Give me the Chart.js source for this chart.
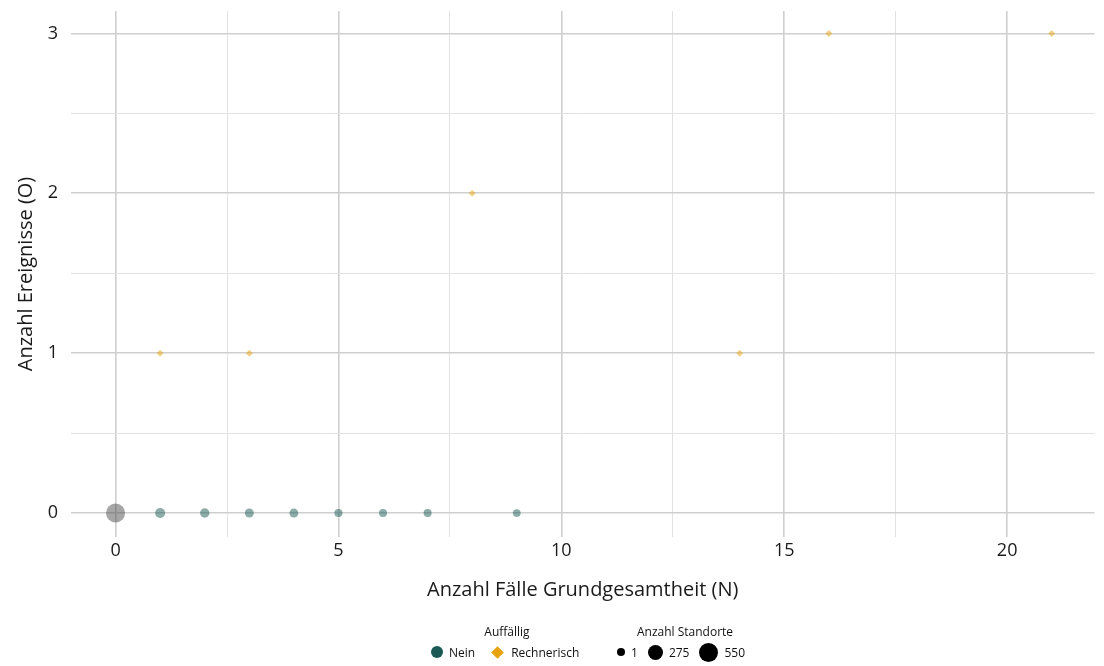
<!DOCTYPE html>
<html>
<head>
<meta charset="utf-8">
<script src="https://cdn.jsdelivr.net/npm/chart.js@4/dist/chart.umd.min.js"></script>
<style>
  body { margin: 0; background: #fff; font-family: "Open Sans", sans-serif; }
  #wrap { position: relative; width: 1104px; height: 666px; }
  #legend { position: absolute; left: 0; top: 623px; width: 1104px; font-size: 12px; color: #111; }
  .grp { position: absolute; top: 0; }
  .grp .ttl { text-align: center; height: 18px; line-height: 18px; }
  .row { display: flex; align-items: center; height: 22px; white-space: nowrap; }
  .sym { display: inline-block; margin-right: 6px; }
  .lab { margin-right: 10px; }
</style>
</head>
<body>
<div id="wrap">
  <canvas id="myChart" width="1104" height="666"></canvas>
  <div id="legend">
    <div class="grp" style="left:431px; width:152px;">
      <div class="ttl">Auffällig</div>
      <div class="row">
        <span class="sym" style="width:12px;height:12px;border-radius:50%;background:#1a5954;"></span><span class="lab">Nein</span>
        <span class="sym" style="width:9px;height:9px;background:#e8a20c;transform:rotate(45deg);margin-left:8px;margin-right:9px;"></span><span class="lab" style="margin-right:0">Rechnerisch</span>
      </div>
    </div>
    <div class="grp" style="left:617px; width:136px;">
      <div class="ttl">Anzahl Standorte</div>
      <div class="row">
        <span class="sym" style="width:8px;height:8px;border-radius:50%;background:#000;"></span><span class="lab">1</span>
        <span class="sym" style="width:15px;height:15px;border-radius:50%;background:#000;"></span><span class="lab">275</span>
        <span class="sym" style="width:19px;height:19px;border-radius:50%;background:#000;"></span><span class="lab" style="margin-right:0">550</span>
      </div>
    </div>
  </div>
</div>
<script>
// Auffällig = Nein
var neinX = [1, 2, 3, 4, 5, 6, 7, 9];
var neinY = [0, 0, 0, 0, 0, 0, 0, 0];
var neinN = [35, 23, 16, 14, 6, 5, 5, 3];

// Auffällig = Rechnerisch
var rechX = [1, 3, 8, 14, 16, 21];
var rechY = [1, 1, 2, 1, 3, 3];
var rechN = [1, 1, 1, 1, 1, 1];

// ohne Einstufung (grau)
var greyX = [0];
var greyY = [0];
var greyN = [550];

var xTicks = [0, 5, 10, 15, 20];
var yTicks = [0, 1, 2, 3];

function sizeOf(n) {
  return 3.5 + 6 * Math.sqrt((n - 1) / 549);
}

function toPoints(xs, ys) {
  var pts = [];
  for (var i = 0; i < xs.length; i++) {
    pts.push({ x: xs[i], y: ys[i] });
  }
  return pts;
}

function radiusFrom(arr) {
  return function(ctx) { return sizeOf(arr[ctx.dataIndex]); };
}

function keepSteps(step) {
  return function(scale) {
    scale.ticks = scale.ticks.filter(function(t) {
      var q = t.value / step;
      return Math.abs(q - Math.round(q)) < 1e-6;
    });
  };
}

var ctx = document.getElementById('myChart').getContext('2d');
var myChart = new Chart(ctx, {
  type: 'scatter',
  data: {
    datasets: [
      {
        label: 'Nein',
        data: toPoints(neinX, neinY),
        backgroundColor: 'rgba(26, 89, 84, 0.5)',
        pointRadius: radiusFrom(neinN),
        pointHoverRadius: radiusFrom(neinN),
        pointBorderWidth: 0,
        pointStyle: 'circle'
      },
      {
        label: 'Rechnerisch',
        data: toPoints(rechX, rechY),
        backgroundColor: 'rgba(232, 162, 12, 0.5)',
        pointRadius: radiusFrom(rechN),
        pointHoverRadius: radiusFrom(rechN),
        pointBorderWidth: 0,
        pointStyle: 'rectRot'
      },
      {
        label: 'NA',
        data: toPoints(greyX, greyY),
        backgroundColor: 'rgba(77, 77, 77, 0.5)',
        pointRadius: radiusFrom(greyN),
        pointHoverRadius: radiusFrom(greyN),
        pointBorderWidth: 0,
        pointStyle: 'circle'
      }
    ]
  },
  options: {
    responsive: false,
    animation: false,
    layout: { padding: { top: 11, right: 0, bottom: 0, left: 4 } },
    plugins: { legend: { display: false }, tooltip: { enabled: false } },
    scales: {
      x: {
        type: 'linear',
        min: -1,
        max: 21.96,
        afterBuildTicks: keepSteps(2.5),
        border: { display: false },
        grid: {
          drawTicks: false,
          color: function(c) { return (c.tick && c.tick.value % 5 === 0) ? '#cfcfcf' : '#e2e2e2'; },
          lineWidth: function(c) { return (c.tick && c.tick.value % 5 === 0) ? 1.6 : 1; }
        },
        ticks: {
          stepSize: 2.5,
          includeBounds: false,
          maxRotation: 0,
          autoSkip: false,
          padding: 3,
          color: '#1a1a1a',
          font: { family: 'Open Sans', size: 18 },
          callback: function(v) { return xTicks.indexOf(v) >= 0 ? String(v) : ''; }
        },
        title: {
          display: true,
          text: 'Anzahl Fälle Grundgesamtheit (N)',
          color: '#1a1a1a',
          font: { family: 'Open Sans', size: 20 },
          padding: { top: 0, bottom: 64 }
        },
        afterFit: function(scale) {
          scale.height = 129;
          scale.paddingLeft = 0;
          scale.paddingRight = 0;
        }
      },
      y: {
        type: 'linear',
        min: -0.15,
        max: 3.14,
        afterBuildTicks: keepSteps(0.5),
        border: { display: false },
        grid: {
          drawTicks: false,
          color: function(c) { return (c.tick && c.tick.value % 1 === 0) ? '#cfcfcf' : '#e2e2e2'; },
          lineWidth: function(c) { return (c.tick && c.tick.value % 1 === 0) ? 1.6 : 1; }
        },
        ticks: {
          stepSize: 0.5,
          includeBounds: false,
          padding: 13,
          color: '#1a1a1a',
          font: { family: 'Open Sans', size: 18 },
          callback: function(v) { return yTicks.indexOf(v) >= 0 ? String(v) : ''; }
        },
        title: {
          display: true,
          text: 'Anzahl Ereignisse (O)',
          color: '#1a1a1a',
          font: { family: 'Open Sans', size: 20 },
          padding: { top: 10, bottom: 4 }
        },
        afterFit: function(scale) {
          scale.width = 67;
          scale.paddingTop = 0;
          scale.paddingBottom = 0;
        }
      }
    }
  }
});
</script>
</body>
</html>
